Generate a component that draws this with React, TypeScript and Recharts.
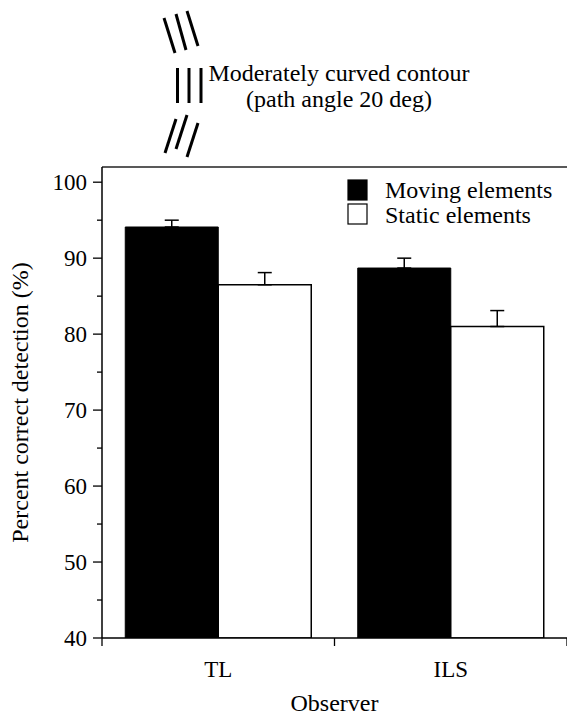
import React from 'react';
import { BarChart, Bar, XAxis, YAxis, ErrorBar, Legend, ReferenceLine, Customized } from 'recharts';

const observers = ['TL', 'ILS'];
const movingValues = [94.1, 88.7];
const movingErrors = [0.9, 1.3];
const staticValues = [86.5, 81.0];
const staticErrors = [1.6, 2.1];
const yTicks = [40, 45, 50, 55, 60, 65, 70, 75, 80, 85, 90, 95, 100];
const yDomain = [40, 102];
const seriesNames = ['Moving elements', 'Static elements'];
const titleLines = ['Moderately curved contour', '(path angle 20 deg)'];
const xLabel = 'Observer';
const yLabel = 'Percent correct detection (%)';

const data = observers.map((o, i) => ({
  observer: o,
  moving: movingValues[i],
  movingErr: [0, movingErrors[i]],
  static: staticValues[i],
  staticErr: [0, staticErrors[i]],
}));

const FONT = "'Liberation Serif', 'Times New Roman', 'DejaVu Serif', serif";
const fs = (size: number) => ({ fontFamily: FONT, fontSize: size });

const YTick = (props: any) => {
  const { x, y, payload } = props;
  const major = payload.value % 10 === 0;
  return (
    <g>
      <line x1={x - (major ? 9 : 5)} x2={x} y1={y} y2={y} stroke="#000" strokeWidth={1.3} />
      {major && (
        <text x={x - 15} y={y + 8} textAnchor="end" style={fs(23)} fill="#000">
          {payload.value}
        </text>
      )}
    </g>
  );
};

const XTick = (props: any) => {
  const { x, y, payload, index } = props;
  const off = payload && typeof payload.offset === 'number' && payload.offset > 0 ? payload.offset : 116.25;
  const last = index === observers.length - 1;
  return (
    <g>
      <line x1={x - off} x2={x - off} y1={y} y2={y + 8} stroke="#000" strokeWidth={1.3} />
      {last && <line x1={x + off} x2={x + off} y1={y} y2={y + 8} stroke="#000" strokeWidth={1.3} />}
      <text x={x} y={y + 39} textAnchor="middle" style={fs(23)} fill="#000">
        {payload.value}
      </text>
    </g>
  );
};

const YLabel = (props: any) => {
  const vb = props.viewBox || { x: 0, y: 167, width: 102, height: 471 };
  const cx = 28;
  const cy = vb.y + vb.height / 2;
  return (
    <text x={cx} y={cy} transform={`rotate(-90, ${cx}, ${cy})`} textAnchor="middle" style={fs(24)} fill="#000">
      {yLabel}
    </text>
  );
};

const XLabel = (props: any) => {
  const vb = props.viewBox || { x: 102, y: 638, width: 465, height: 78 };
  return (
    <text x={vb.x + vb.width / 2} y={vb.y + 73} textAnchor="middle" style={fs(24)} fill="#000">
      {xLabel}
    </text>
  );
};

const Decoration = () => {
  const sw = 3;
  const lines = [
    [164, 18, 175, 53],
    [176, 14, 186, 50],
    [187, 11, 198, 46],
    [177.5, 68, 177.5, 103],
    [189, 68, 189, 103],
    [201, 68, 201, 103],
    [165, 153, 176, 119],
    [176, 149, 187, 115],
    [187, 157, 198, 123],
  ];
  return (
    <g>
      {lines.map((l, i) => (
        <line key={i} x1={l[0]} y1={l[1]} x2={l[2]} y2={l[3]} stroke="#000" strokeWidth={sw} />
      ))}
      <text x={339} y={81} textAnchor="middle" style={fs(24)} fill="#000">
        {titleLines[0]}
      </text>
      <text x={339} y={107} textAnchor="middle" style={fs(24)} fill="#000">
        {titleLines[1]}
      </text>
    </g>
  );
};

const LegendContent = (props: any) => {
  const payload = props.payload || [];
  return (
    <svg width={220} height={52} style={{ display: 'block', overflow: 'visible' }}>
      {payload.map((p: any, i: number) => (
        <g key={i}>
          <rect
            x={1}
            y={1 + i * 24}
            width={19}
            height={20}
            fill={i === 0 ? '#000' : '#fff'}
            stroke="#000"
            strokeWidth={1.2}
          />
          <text x={38} y={19 + i * 24.5} style={fs(24)} fill="#000">
            {p.value}
          </text>
        </g>
      ))}
    </svg>
  );
};

export default function App() {
  return (
    <div style={{ position: 'absolute', left: 0, top: 0, width: 567, height: 716 }}>
      <BarChart
        width={567}
        height={716}
        data={data}
        margin={{ top: 167, right: 0, bottom: 0, left: 0 }}
        barCategoryGap="10%"
        barGap={0}
      >
        <XAxis
          dataKey="observer"
          height={78}
          tickSize={0}
          tickMargin={0}
          tickLine={false}
          axisLine={{ stroke: '#000', strokeWidth: 1.5 }}
          tick={<XTick />}
          interval={0}
          label={{ content: <XLabel /> }}
        />
        <YAxis
          type="number"
          domain={yDomain}
          ticks={yTicks}
          interval={0}
          width={102}
          tickSize={0}
          tickMargin={0}
          tickLine={false}
          allowDataOverflow
          axisLine={{ stroke: '#000', strokeWidth: 1.5 }}
          tick={<YTick />}
          label={{ content: <YLabel /> }}
        />
        <ReferenceLine y={yDomain[1]} stroke="#222" strokeWidth={1.5} />
        <Legend
          layout="horizontal"
          verticalAlign="middle"
          align="center"
          content={<LegendContent />}
          wrapperStyle={{ position: 'absolute', left: 347, top: 179, width: 220, height: 52 }}
        />
        <Bar dataKey="moving" name={seriesNames[0]} fill="#000" stroke="#000" strokeWidth={1} isAnimationActive={false}>
          <ErrorBar dataKey="movingErr" direction="y" width={7} stroke="#000" strokeWidth={1.5} isAnimationActive={false} />
        </Bar>
        <Bar dataKey="static" name={seriesNames[1]} fill="#fff" stroke="#000" strokeWidth={1.5} isAnimationActive={false}>
          <ErrorBar dataKey="staticErr" direction="y" width={7} stroke="#000" strokeWidth={1.5} isAnimationActive={false} />
        </Bar>
        <Customized component={<Decoration />} />
      </BarChart>
    </div>
  );
}
